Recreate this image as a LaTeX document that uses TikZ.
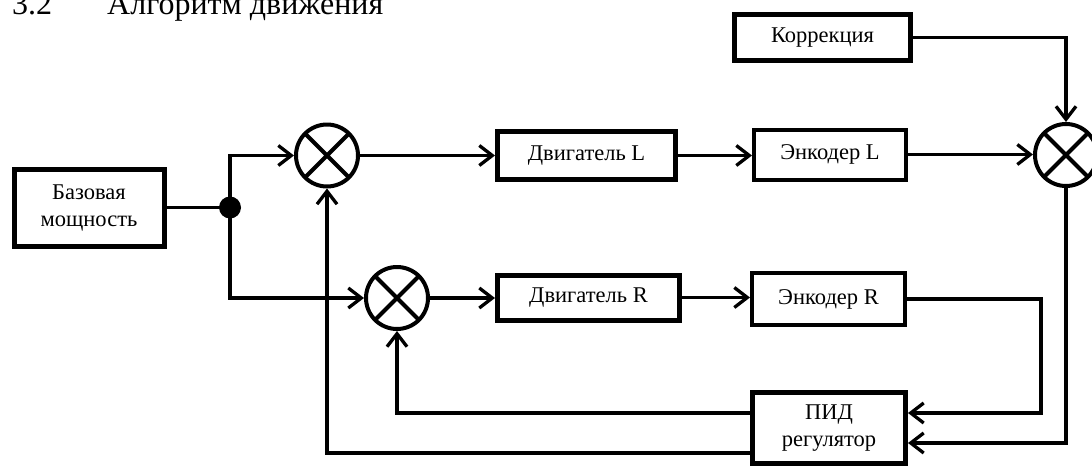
\documentclass[tikz,border=0pt]{standalone}
\usepackage{fontspec}
\setmainfont{Liberation Serif}
\usetikzlibrary{arrows.meta,calc}
\begin{document}
\begin{tikzpicture}[x=1pt,y=-1pt,
  blk/.style={draw,line width=5pt,align=center,inner sep=0pt,font=\fontsize{22.5}{27}\selectfont},
  thinblk/.style={blk,line width=4pt},
  sumn/.style={draw,circle,line width=4pt,minimum size=62pt,inner sep=0pt,
    path picture={\draw[line width=4pt] (path picture bounding box.north west)--(path picture bounding box.south east)
      (path picture bounding box.north east)--(path picture bounding box.south west);}},
  conn/.style={line width=3.3pt},
  arr/.style={conn,-{Straight Barb[length=13pt,width=20pt]}},
  ttl/.style={anchor=base west,inner sep=0pt,font=\fontsize{32}{32}\selectfont}
]
\useasboundingbox (0,0) rectangle (1092,469);
% title (cut off at the top, as in the reference)
\node[ttl] (tnum) at (12,14) {3.2};
\node[ttl] (ttext) at (107,14) {Алгоритм движения};
% blocks
\node[blk,minimum width=150pt,minimum height=77pt] (base) at (89,207.5) {Базовая\\мощность};
\node[blk,minimum width=178pt,minimum height=48pt] (motL) at (586.5,155.5) {Двигатель L};
\node[thinblk,minimum width=152pt,minimum height=50pt] (encL) at (830,154.5) {Энкодер L};
\node[blk,minimum width=176pt,minimum height=46pt] (korr) at (822.5,37.5) {Коррекция};
\node[blk,minimum width=182pt,minimum height=45pt] (motR) at (588.5,297.5) {Двигатель R};
\node[thinblk,minimum width=153pt,minimum height=52pt] (encR) at (828.5,299) {Энкодер R};
\node[blk,minimum width=153pt,minimum height=71pt] (pid) at (829,428) {ПИД\\регулятор};
% summing junctions
\node[sumn] (sum1) at (327,155.5) {};
\node[sumn] (sum2) at (397,298) {};
\node[sumn] (sum3) at (1066,155) {};
% branch dot
\node[circle,fill,minimum size=22pt,inner sep=0pt] (dot) at (230,207.5) {};
\coordinate (rt) at (1041,0);
% connectors
\draw[conn] (base.east) -- (dot.center);
\draw[arr] (dot.center) |- (sum1.west);
\draw[arr] (dot.center) |- (sum2.west);
\draw[arr] (sum1.east) -- (sum1.east -| motL.west);
\draw[arr] (motL.east) -- (motL.east -| encL.west);
\draw[arr] (encL.east) -- (encL.east -| sum3.west);
\draw[arr] (korr.east) -| (sum3.north);
\draw[arr] (sum2.east) -- (sum2.east -| motR.west);
\draw[arr] (motR.east) -- (motR.east -| encR.west);
\draw[arr] (sum3.south) |- ($(pid.east)+(0,15)$);
\draw[arr] (encR.east) -- (encR.east -| rt) |- ($(pid.east)+(0,-15)$);
\draw[arr] ($(pid.west)+(0,-15)$) -| (sum2.south);
\draw[arr] ($(pid.west)+(0,25)$) -| (sum1.south);
\end{tikzpicture}
\end{document}
